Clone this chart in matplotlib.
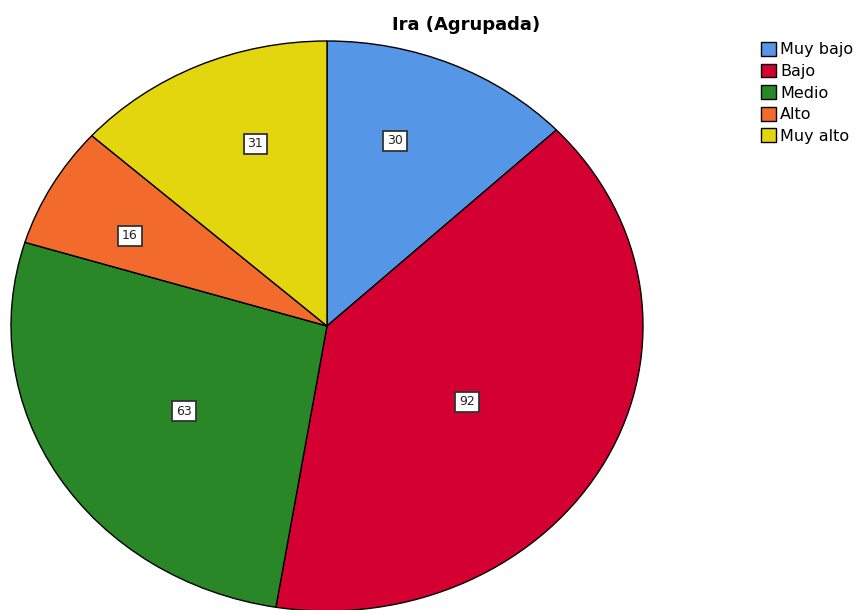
import matplotlib
matplotlib.use("Agg")
import numpy as np
import matplotlib.pyplot as plt
from matplotlib.patches import Patch

categories = ["Muy bajo", "Bajo", "Medio", "Alto", "Muy alto"]
values = [30, 92, 63, 16, 31]
colors = ["#5596E6", "#D40032", "#2A8728", "#F26A2C", "#E3D60F"]
title = "Ira (Agrupada)"

# label placement (layout): angle clockwise from top (deg), radius fraction
label_angle = [18.3, 121.0, 236.6, 296.9, 340.4]
label_radius = [0.684, 0.517, 0.542, 0.699, 0.678]

W, H = 857, 610
fig = plt.figure(figsize=(W / 100, H / 100), dpi=100)
ax = fig.add_axes([0, 0, 1, 1])

cx, cy, rx, ry = 327, 326, 316, 285

wedges, texts, autotexts = ax.pie(
    values, colors=colors, startangle=90, counterclock=False, radius=1,
    autopct=lambda p: "{:.0f}".format(p * sum(values) / 100),
    pctdistance=0.62,
    wedgeprops=dict(edgecolor="black", linewidth=1.0),
    textprops=dict(fontsize=9, color="#222222"),
)
for t, a, r in zip(autotexts, label_angle, label_radius):
    th = np.deg2rad(a)
    t.set_position((r * np.sin(th), r * np.cos(th)))
    t.set_bbox(dict(boxstyle="square,pad=0.3", facecolor="white", edgecolor="#333333", linewidth=1.3))

ax.set_aspect("auto")
ax.set_xlim((0 - cx) / rx, (W - cx) / rx)
ax.set_ylim((cy - H) / ry, (cy - 0) / ry)
ax.axis("off")

fig.text(466 / W, 1 - 25 / H, title, ha="center", va="center", fontsize=13, fontweight="bold")

handles = [Patch(facecolor=c, edgecolor="black", linewidth=1.0) for c in colors]
fig.legend(handles, categories, loc="upper left", bbox_to_anchor=(761 / W, 1 - 42 / H),
           frameon=False, fontsize=11.5, handlelength=0.95, handleheight=0.95,
           handletextpad=0.25, labelspacing=0.39, borderpad=0, borderaxespad=0)

fig.savefig("out.png", dpi=100)
